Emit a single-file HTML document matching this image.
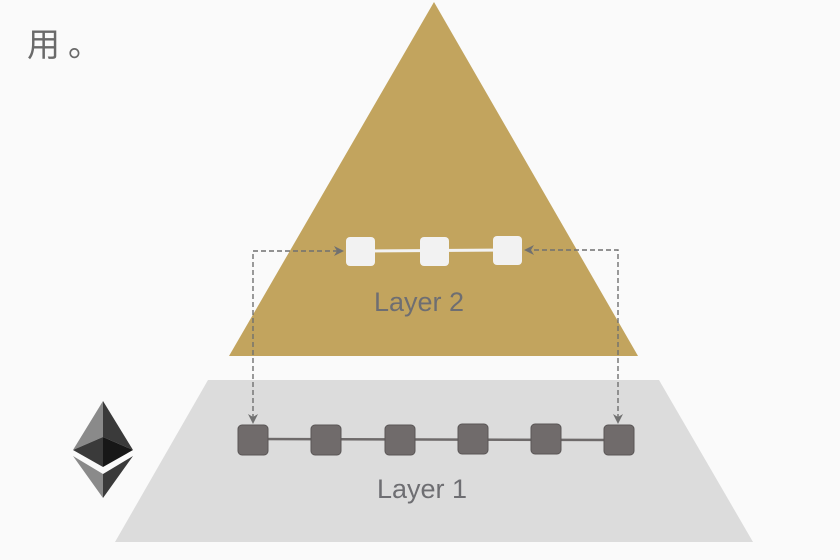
<!DOCTYPE html>
<html><head><meta charset="utf-8"><style>
body{margin:0;background:#fafafa;}
svg{display:block}
</style></head><body>
<svg width="840" height="560" viewBox="0 0 840 560" xmlns="http://www.w3.org/2000/svg">
<rect width="840" height="560" fill="#fafafa"/>
<text x="27" y="56" font-family="Liberation Sans, Noto Sans CJK SC, sans-serif" font-size="33" fill="#6a6a6a">用</text>
<text x="68" y="56" font-family="Liberation Sans, Noto Sans CJK SC, sans-serif" font-size="33" fill="#6a6a6a">。</text>
<polygon points="434,2 638,356 229,356" fill="#c2a45e"/>
<polygon points="208,380 659,380 753,542 115,542" fill="#dcdcdc"/>
<!-- eth -->
<polygon points="103,401 73,450 103,437" fill="#8a8a8a"/>
<polygon points="103,401 133,450 103,437" fill="#3a3a3a"/>
<polygon points="73,450 103,437 103,467" fill="#3a3a3a"/>
<polygon points="133,450 103,437 103,467" fill="#171717"/>
<polygon points="73,456 103,474 103,498" fill="#8a8a8a"/>
<polygon points="133,456 103,474 103,498" fill="#3a3a3a"/>
<!-- layer2 -->
<line x1="360" y1="251" x2="508" y2="250" stroke="#f2f2f2" stroke-width="3"/>
<rect x="346" y="237" width="29" height="29" rx="4" fill="#f2f2f2"/>
<rect x="420" y="237" width="29" height="29" rx="4" fill="#f2f2f2"/>
<rect x="493" y="236" width="29" height="29" rx="4" fill="#f2f2f2"/>
<text x="419" y="311" text-anchor="middle" font-family="Liberation Sans, sans-serif" font-size="27" fill="#6e6e72">Layer 2</text>
<!-- dashed -->
<g stroke="#707070" stroke-width="1.4" stroke-dasharray="5,3" fill="none">
<polyline points="253,419 253,251 338,251"/>
<polyline points="618,419 618,250 530,250"/>
</g>
<g fill="#707070">
<polygon points="344,251 334,246 337,251 334,256"/>
<polygon points="524,250 534,245 531,250 534,255"/>
<polygon points="253,424 248,414 253,417 258,414"/>
<polygon points="618,424 613,414 618,417 623,414"/>
</g>
<!-- layer1 -->
<line x1="253" y1="439" x2="619" y2="440" stroke="#6e6a6a" stroke-width="2.5"/>
<g fill="#706b6b" stroke="#5a5656" stroke-width="1">
<rect x="238" y="425" width="30" height="30" rx="4"/>
<rect x="311" y="425" width="30" height="30" rx="4"/>
<rect x="385" y="425" width="30" height="30" rx="4"/>
<rect x="458" y="424" width="30" height="30" rx="4"/>
<rect x="531" y="424" width="30" height="30" rx="4"/>
<rect x="604" y="425" width="30" height="30" rx="4"/>
</g>
<text x="422" y="498" text-anchor="middle" font-family="Liberation Sans, sans-serif" font-size="27" fill="#6e6e72">Layer 1</text>
</svg>
</body></html>
